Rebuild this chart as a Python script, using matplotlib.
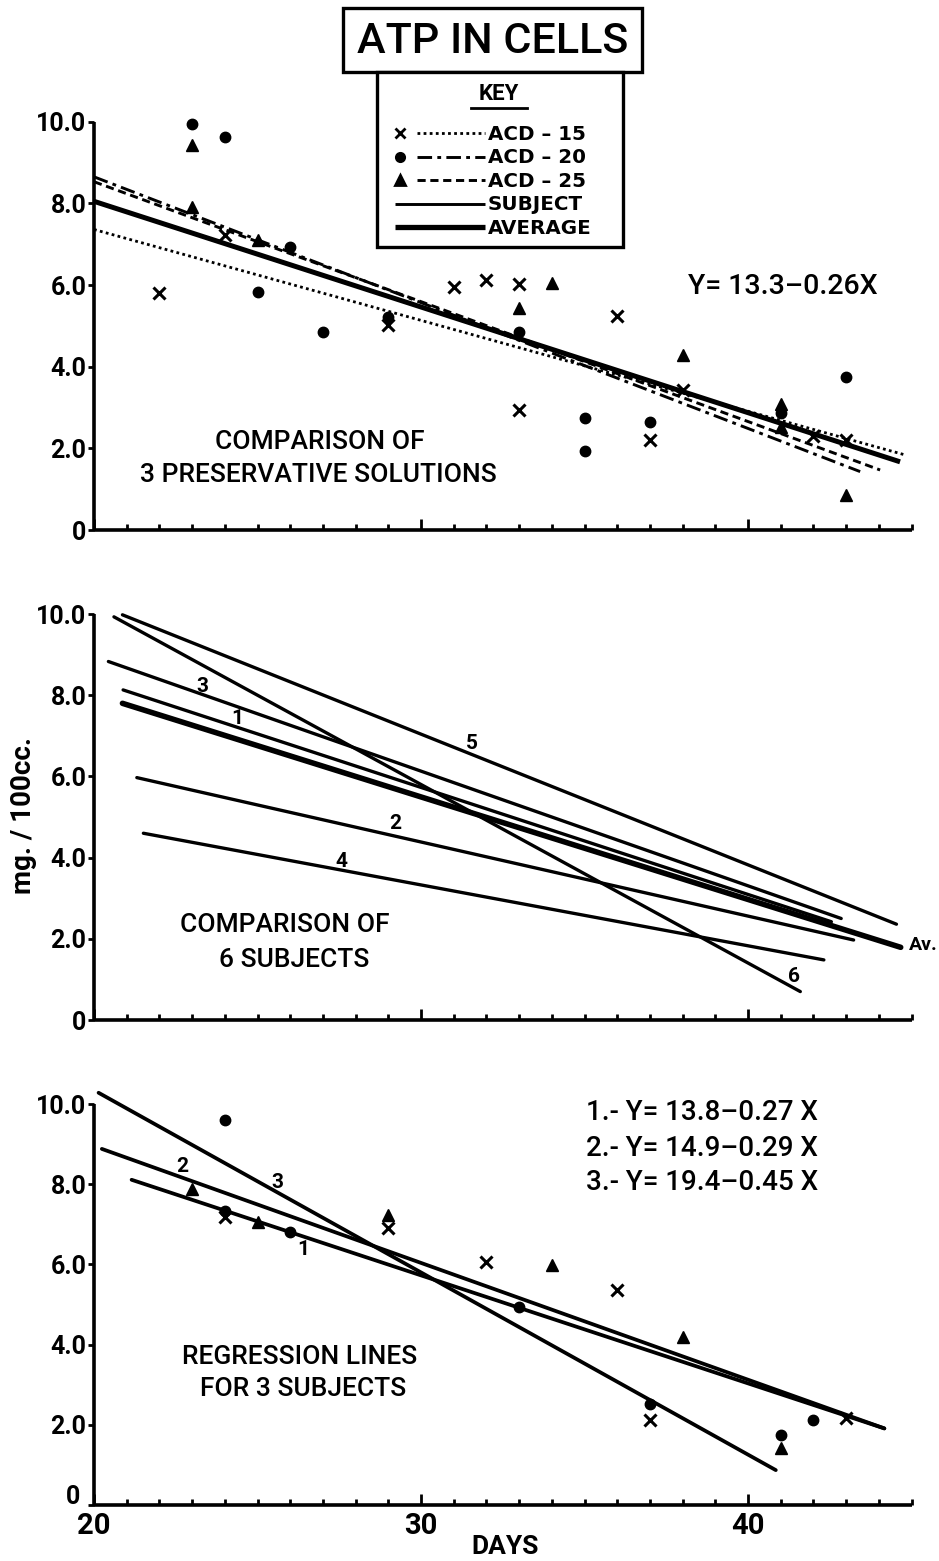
import matplotlib
matplotlib.use("Agg")
import matplotlib.pyplot as plt
from matplotlib.patches import Rectangle

plt.rcParams['font.family'] = ['Roboto', 'DejaVu Sans']

W, H = 939, 1561

# ---------------- data ----------------
# Panel 1: three preservative solutions (scatter points)
acd15_x = [22, 24, 29, 31, 32, 33, 33, 36, 37, 38, 42, 43]
acd15_y = [5.80, 7.22, 5.02, 5.94, 6.12, 6.03, 2.94, 5.24, 2.20, 3.43, 2.29, 2.20]
acd20_x = [23, 24, 25, 26, 27, 29, 33, 35, 35, 37, 41, 43]
acd20_y = [9.94, 9.62, 5.84, 6.94, 4.84, 5.22, 4.85, 2.74, 1.94, 2.65, 2.86, 3.75]
acd25_x = [23, 23, 25, 33, 34, 38, 41, 41, 43]
acd25_y = [9.43, 7.92, 7.10, 5.43, 6.04, 4.29, 3.09, 2.53, 0.86]

# Panel 1: regression lines (x range, y at ends)
acd15_line_x = [20, 44.8]
acd15_line_y = [7.36, 1.84]
acd20_line_x = [20, 43.43]
acd20_line_y = [8.65, 1.43]
acd25_line_x = [20, 44.04]
acd25_line_y = [8.53, 1.47]
avg1_line_x = [20, 44.65]
avg1_line_y = [8.05, 1.67]

# Panel 2: six subjects + average (x ends, y ends)
subj_names = ['1', '2', '3', '4', '5', '6']
subj_x0 = [20.89, 21.31, 20.44, 21.51, 20.87, 20.61]
subj_x1 = [42.55, 43.23, 42.85, 42.32, 44.54, 41.60]
subj_y0 = [8.13, 5.97, 8.83, 4.60, 9.98, 9.93]
subj_y1 = [2.42, 1.97, 2.50, 1.48, 2.36, 0.70]
subj_label_x = [24.39, 29.20, 23.32, 27.57, 31.55, 41.42]
subj_label_y = [7.43, 4.84, 8.21, 3.90, 6.81, 1.07]
avg2_line_x = [20.87, 44.67]
avg2_line_y = [7.80, 1.79]

# Panel 3: three subjects
p3_x_marker_x = [24, 29, 32, 36, 37, 43]
p3_x_marker_y = [7.18, 6.92, 6.06, 5.35, 2.12, 2.16]
p3_circle_x = [24, 24, 26, 33, 37, 41, 42]
p3_circle_y = [9.60, 7.32, 6.81, 4.94, 2.53, 1.74, 2.13]
p3_tri_x = [23, 25, 29, 34, 38, 41]
p3_tri_y = [7.89, 7.06, 7.22, 5.98, 4.19, 1.41]
reg_names = ['1', '2', '3']
reg_x0 = [21.15, 20.24, 20.14]
reg_x1 = [44.17, 44.17, 40.85]
reg_y0 = [8.11, 8.88, 10.28]
reg_y1 = [1.91, 1.91, 0.87]
reg_label_x = [26.4, 22.7, 25.6]
reg_label_y = [6.36, 8.44, 8.04]
reg_equations = ['1.- Y= 13.8\u20130.27 X', '2.- Y= 14.9\u20130.29 X', '3.- Y= 19.4\u20130.45 X']

ytick_vals = [0, 2, 4, 6, 8, 10]
ytick_labels = ['0', '2.0', '4.0', '6.0', '8.0', '10.0']
xtick_major = [20, 30, 40]
xtick_labels = ['20', '30', '40']
xtick_minor = [d for d in range(21, 46) if d not in (30, 40)]

# ---------------- figure ----------------
fig = plt.figure(figsize=(W / 100, H / 100), dpi=100)


def px_axes(y_zero, y_ten):
    left = 94 / W
    width = (911.5 - 94) / W
    bottom = 1 - y_zero / H
    height = (y_zero - y_ten) / H
    return fig.add_axes([left, bottom, width, height])


def style(ax, xlabels=False):
    ax.set_xlim(20, 45)
    ax.set_ylim(0, 10)
    ax.patch.set_alpha(0)
    for s in ('top', 'right'):
        ax.spines[s].set_visible(False)
    for s in ('left', 'bottom'):
        ax.spines[s].set_linewidth(2.6)
        ax.spines[s].set_capstyle('butt')
    ax.set_yticks(ytick_vals)
    labels = list(ytick_labels)
    if xlabels:
        labels[0] = ''  # drawn separately to keep clear of the "20"
    ax.set_yticklabels(labels, fontsize=18, fontweight='bold')
    ax.tick_params(axis='y', direction='out', length=4, width=2, pad=1.5)
    ax.set_xticks(xtick_major)
    ax.set_xticks(xtick_minor, minor=True)
    ax.tick_params(axis='x', which='major', direction='in', length=8, width=2, pad=5)
    ax.tick_params(axis='x', which='minor', direction='in', length=4, width=2)
    if xlabels:
        ax.set_xticklabels(xtick_labels, fontsize=21, fontweight='bold')
    else:
        ax.set_xticklabels([])


# Panel 1
ax1 = px_axes(530, 121.7)
style(ax1)
ax1.plot(acd15_line_x, acd15_line_y, color='black', lw=2.0, ls=(0, (1, 1.2)), clip_on=False)
ax1.plot(acd20_line_x, acd20_line_y, color='black', lw=2.1, ls=(0, (5, 1.8, 1.3, 1.8)), clip_on=False)
ax1.plot(acd25_line_x, acd25_line_y, color='black', lw=2.1, ls=(0, (2.8, 1.6)), clip_on=False)
ax1.plot(avg1_line_x, avg1_line_y, color='black', lw=3.6, solid_capstyle='butt', clip_on=False)
ax1.plot(acd15_x, acd15_y, ls='none', marker='x', ms=8, mew=2.2, color='black', clip_on=False)
ax1.plot(acd20_x, acd20_y, ls='none', marker='o', ms=7.5, color='black', clip_on=False)
ax1.plot(acd25_x, acd25_y, ls='none', marker='^', ms=8.5, color='black', clip_on=False)

# Panel 2
ax2 = px_axes(1020, 614)
style(ax2)
for i in range(len(subj_names)):
    ax2.plot([subj_x0[i], subj_x1[i]], [subj_y0[i], subj_y1[i]], color='black',
             lw=2.4, solid_capstyle='round', clip_on=False)
    ax2.text(subj_label_x[i], subj_label_y[i], subj_names[i], fontsize=15,
             fontweight='bold', ha='center', va='center')
ax2.plot(avg2_line_x, avg2_line_y, color='black', lw=4.0, solid_capstyle='round', clip_on=False)

# Panel 3
ax3 = px_axes(1505, 1104)
style(ax3, xlabels=True)
for i in range(len(reg_names)):
    ax3.plot([reg_x0[i], reg_x1[i]], [reg_y0[i], reg_y1[i]], color='black',
             lw=2.7, solid_capstyle='round', clip_on=False)
    ax3.text(reg_label_x[i], reg_label_y[i], reg_names[i], fontsize=15,
             fontweight='bold', ha='center', va='center')
ax3.plot(p3_x_marker_x, p3_x_marker_y, ls='none', marker='x', ms=8, mew=2.2, color='black', clip_on=False)
ax3.plot(p3_circle_x, p3_circle_y, ls='none', marker='o', ms=7.5, color='black', clip_on=False)
ax3.plot(p3_tri_x, p3_tri_y, ls='none', marker='^', ms=8.5, color='black', clip_on=False)

# ---------------- overlay (pixel coordinates) ----------------
ov = fig.add_axes([0, 0, 1, 1], zorder=10)
ov.set_xlim(0, W)
ov.set_ylim(H, 0)
ov.axis('off')
ov.patch.set_alpha(0)

# title box and key box
ov.add_patch(Rectangle((343, 8), 299, 64, facecolor='white', edgecolor='black', lw=2.4))
ov.add_patch(Rectangle((377, 72), 246, 175, facecolor='white', edgecolor='black', lw=2.4))
ov.text(493, 41, 'ATP IN CELLS', fontsize=31, fontweight='medium', ha='center', va='center')
ov.text(499, 94, 'KEY', fontsize=16, fontweight='bold', ha='center', va='center')
ov.plot([471, 527], [108, 108], color='black', lw=2.0)

key_labels = ['ACD \u2013 15', 'ACD \u2013 20', 'ACD \u2013 25', 'SUBJECT', 'AVERAGE']
key_rows = [133, 156.5, 180, 203.5, 227]
key_markers = ['x', 'o', '^', None, None]
key_styles = [(0, (1, 1.2)), (0, (5, 1.8, 1.3, 1.8)), (0, (2.8, 1.6)), '-', '-']
key_widths = [2.0, 2.1, 2.1, 2.1, 3.8]
for lab, yy, mk, st, lw in zip(key_labels, key_rows, key_markers, key_styles, key_widths):
    if mk is not None:
        ov.plot([400], [yy], marker=mk, ms=7 if mk != 'o' else 6, mew=2, color='black', ls='none')
        ov.plot([417, 485], [yy, yy], color='black', lw=lw, ls=st)
    else:
        ov.plot([395, 485], [yy, yy], color='black', lw=lw, ls=st, solid_capstyle='butt')
    ov.text(488, yy + 1, lab, fontsize=14.3, fontweight='bold', family='DejaVu Sans',
            ha='left', va='center')

# panel annotations
ov.text(320, 442, 'COMPARISON OF', fontsize=19, fontweight='medium', ha='center', va='center')
ov.text(318, 475, '3 PRESERVATIVE SOLUTIONS', fontsize=19, fontweight='medium', ha='center', va='center')
ov.text(688, 286, 'Y= 13.3\u20130.26X', fontsize=20.5, fontweight='medium', ha='left', va='center')

ov.text(285, 925, 'COMPARISON OF', fontsize=19, fontweight='medium', ha='center', va='center')
ov.text(294, 960, '6 SUBJECTS', fontsize=19, fontweight='medium', ha='center', va='center')
ov.text(923, 945, 'Av.', fontsize=14, fontweight='bold', ha='center', va='center')

ov.text(300, 1357, 'REGRESSION LINES', fontsize=19, fontweight='medium', ha='center', va='center')
ov.text(303, 1389, 'FOR 3 SUBJECTS', fontsize=19, fontweight='medium', ha='center', va='center')
for k, eq in enumerate(reg_equations):
    ov.text(586, 1113 + 35 * k, eq, fontsize=20, fontweight='medium', ha='left', va='center')

# the "0" of the bottom panel's y axis, nudged up-left as in the original
ov.text(80, 1497, '0', fontsize=18, fontweight='bold', ha='right', va='center')

ov.text(24, 815, 'mg. / 100cc.', fontsize=20, fontweight='bold', rotation=90, ha='center', va='center')
ov.text(505, 1547, 'DAYS', fontsize=19, fontweight='bold', ha='center', va='center')

fig.savefig('out.png', dpi=100)
